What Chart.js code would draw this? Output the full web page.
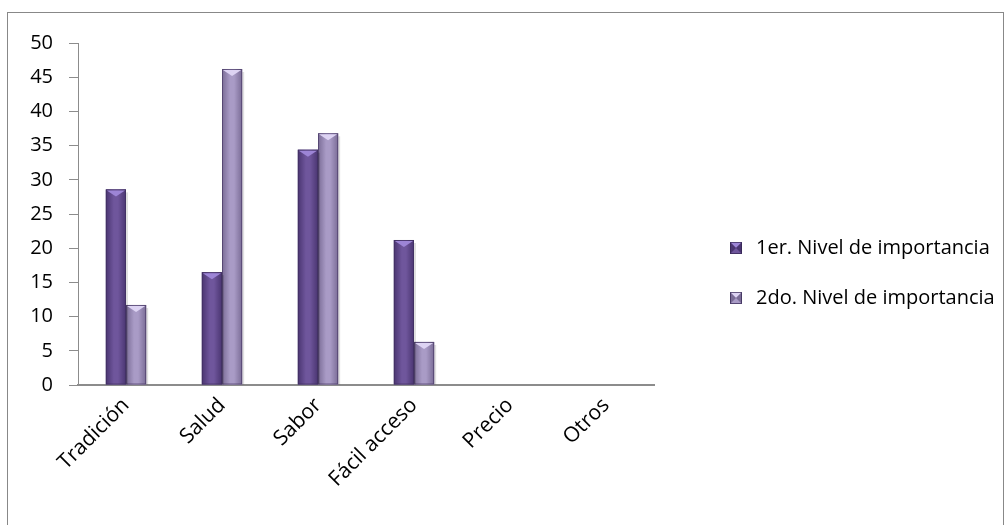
<!DOCTYPE html>
<html lang="es">
<head>
<meta charset="UTF-8">
<title>Nivel de importancia</title>
<script src="https://cdn.jsdelivr.net/npm/chart.js"></script>
<style>
  html, body { margin: 0; padding: 0; background: #fff; overflow: hidden; }
  .frame { position: absolute; left: 7px; top: 12px; width: 997px; height: 530px; border: 1px solid #888; box-sizing: border-box; }
  .frame canvas { display: block; }
</style>
</head>
<body>
<div class="frame"><canvas id="chart" width="995" height="528"></canvas></div>
<script>
const categories = ['Tradición', 'Salud', 'Sabor', 'Fácil acceso', 'Precio', 'Otros'];
const nivel1 = [28.6, 16.5, 34.4, 21.2, 0, 0];
const nivel2 = [11.7, 46.2, 36.8, 6.3, 0, 0];
const seriesNames = ['1er. Nivel de importancia', '2do. Nivel de importancia'];
const yMax = 50;
const yStep = 5;

const looks = [
  { edge: '#4a3571', mid: '#6f569c', cap: '#9d85d6', flat: '#5f4a8b' },
  { edge: '#7a6c96', mid: '#a99bc6', cap: '#ddd3f3', flat: '#a394bf' }
];

// little pyramid squares for the legend
function marker(look) {
  const s = 12;
  const cv = document.createElement('canvas');
  cv.width = s; cv.height = s;
  const c = cv.getContext('2d');
  c.fillStyle = look.mid;
  c.fillRect(0, 0, s, s);
  const tri = (pts, col) => {
    c.fillStyle = col;
    c.beginPath();
    c.moveTo(pts[0], pts[1]);
    c.lineTo(pts[2], pts[3]);
    c.lineTo(s / 2, s / 2);
    c.closePath();
    c.fill();
  };
  tri([0, 0, s, 0], look.cap);
  tri([0, 0, 0, s], look.edge);
  tri([s, 0, s, s], look.edge);
  c.strokeStyle = 'rgba(50,35,80,0.7)';
  c.strokeRect(0.5, 0.5, s - 1, s - 1);
  return cv;
}

// gradient body + pointed cap, drawn over each bar the library placed
const bevel = {
  id: 'bevel',
  afterDatasetDraw(chart, args) {
    const c = chart.ctx;
    const look = looks[args.index];
    args.meta.data.forEach(bar => {
      const { x, y, base, width } = bar.getProps(['x', 'y', 'base', 'width'], true);
      if (base - y < 1) return;
      const l = x - width / 2, r = x + width / 2;
      c.save();
      c.fillStyle = 'rgba(0,0,0,0.12)';
      c.fillRect(r, y + 3, 2, base - y - 3);
      const g = c.createLinearGradient(l, 0, r, 0);
      g.addColorStop(0, look.edge);
      g.addColorStop(0.4, look.mid);
      g.addColorStop(0.6, look.mid);
      g.addColorStop(1, look.edge);
      c.fillStyle = g;
      c.fillRect(l, y, width, base - y);
      c.strokeStyle = 'rgba(60,45,90,0.6)';
      c.lineWidth = 1;
      c.strokeRect(l + 0.5, y + 0.5, width - 1, base - y - 1);
      c.fillStyle = look.cap;
      c.beginPath();
      c.moveTo(l + 1, y + 1);
      c.lineTo(r - 1, y + 1);
      c.lineTo(x, y + 7);
      c.closePath();
      c.fill();
      c.restore();
    });
  }
};

// legend: fixed width box, then nudged to where the reference has it
const legendSpot = {
  id: 'legendSpot',
  beforeInit(chart) {
    const fit = chart.legend.fit;
    chart.legend.fit = function () {
      fit.call(this);
      this.width = 349;
    };
  },
  afterLayout(chart) {
    const lg = chart.legend;
    const w = lg.width, h = lg.height;
    lg.left = 688; lg.right = lg.left + w;
    lg.top = 195; lg.bottom = lg.top + h;
  }
};

Chart.defaults.font.family = '"Open Sans", sans-serif';
Chart.defaults.color = '#000';

new Chart(document.getElementById('chart'), {
  type: 'bar',
  data: {
    labels: categories,
    datasets: [
      { label: seriesNames[0], data: nivel1, backgroundColor: looks[0].flat, pointStyle: marker(looks[0]) },
      { label: seriesNames[1], data: nivel2, backgroundColor: looks[1].flat, pointStyle: marker(looks[1]) }
    ]
  },
  options: {
    responsive: false,
    animation: false,
    layout: { padding: { top: 30, right: 0, left: 0, bottom: 0 } },
    datasets: { bar: { categoryPercentage: 0.42, barPercentage: 1 } },
    plugins: {
      tooltip: { enabled: false },
      legend: {
        position: 'right',
        align: 'start',
        labels: {
          font: { size: 20 },
          usePointStyle: true,
          padding: 30
        }
      }
    },
    scales: {
      x: {
        afterFit(scale) { scale.height = 156; },
        grid: { display: false },
        border: { color: '#8c8c8c', width: 2 },
        ticks: { maxRotation: 45, minRotation: 45, autoSkip: false, font: { size: 21 }, padding: 0 }
      },
      y: {
        afterFit(scale) { scale.width = 70; },
        min: 0,
        max: yMax,
        ticks: { stepSize: yStep, font: { size: 20 }, padding: 16 },
        grid: { drawOnChartArea: false, tickLength: 9, color: '#8c8c8c' },
        border: { color: '#8c8c8c', width: 1 }
      }
    }
  },
  plugins: [bevel, legendSpot]
});
</script>
</body>
</html>
